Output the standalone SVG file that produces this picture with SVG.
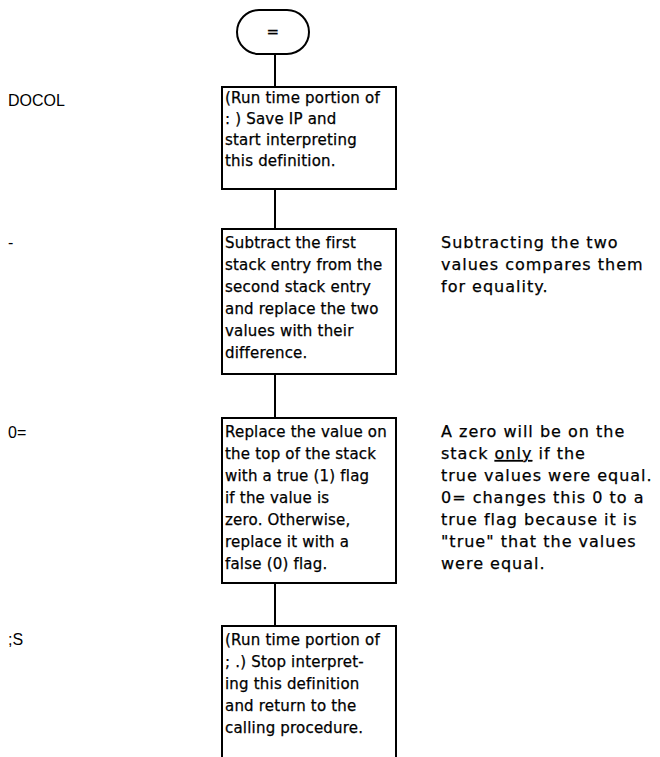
<svg xmlns="http://www.w3.org/2000/svg" width="660" height="757" viewBox="0 0 660 757">
<style>
.box{fill:#fff;stroke:#000;stroke-width:2}
.c{stroke:#000;stroke-width:2;fill:none}
.t{font-family:"DejaVu Sans","Liberation Sans",sans-serif;font-size:15px;letter-spacing:0.2px;fill:#000;stroke:#000;stroke-width:0.25px}
.a{font-family:"DejaVu Sans","Liberation Sans",sans-serif;font-size:16px;letter-spacing:1px;fill:#000;stroke:#000;stroke-width:0.25px}
.l{font-family:"Liberation Sans",Arial,sans-serif;font-size:16px;fill:#000}
</style>
<rect width="660" height="757" fill="#fff"/>
<g id="connectors">
<line class="c" x1="275" y1="54" x2="275" y2="87"/>
<line class="c" x1="275" y1="189" x2="275" y2="229"/>
<line class="c" x1="275" y1="374" x2="275" y2="418"/>
<line class="c" x1="275" y1="583" x2="275" y2="626"/>
</g>
<g id="start">
<rect class="box" x="237" y="10" width="72" height="44" rx="22"/>
<text class="t" x="273" y="37" text-anchor="middle">=</text>
</g>
<g id="docol">
<text class="l" x="8" y="106">DOCOL</text>
<rect class="box" x="222" y="87" width="174" height="102"/>
<text class="t"><tspan x="225" y="103">(Run time portion of</tspan><tspan x="225" y="124">: ) Save IP and</tspan><tspan x="225" y="145">start interpreting</tspan><tspan x="225" y="166">this definition.</tspan></text>
</g>
<g id="minus">
<text class="l" x="8" y="248">-</text>
<rect class="box" x="222" y="229" width="174" height="145"/>
<text class="t"><tspan x="225" y="248">Subtract the first</tspan><tspan x="225" y="270">stack entry from the</tspan><tspan x="225" y="292">second stack entry</tspan><tspan x="225" y="314">and replace the two</tspan><tspan x="225" y="336">values with their</tspan><tspan x="225" y="358">difference.</tspan></text>
<text class="a"><tspan x="441" y="248">Subtracting the two</tspan><tspan x="441" y="270">values compares them</tspan><tspan x="441" y="292">for equality.</tspan></text>
</g>
<g id="zeroeq">
<text class="l" x="8" y="438">0=</text>
<rect class="box" x="222" y="418" width="174" height="165"/>
<text class="t"><tspan x="225" y="437">Replace the value on</tspan><tspan x="225" y="459">the top of the stack</tspan><tspan x="225" y="481">with a true (1) flag</tspan><tspan x="225" y="503">if the value is</tspan><tspan x="225" y="525">zero. Otherwise,</tspan><tspan x="225" y="547">replace it with a</tspan><tspan x="225" y="569">false (0) flag.</tspan></text>
<text class="a"><tspan x="441" y="437">A zero will be on the</tspan><tspan x="441" y="459">stack <tspan text-decoration="underline">only</tspan> if the</tspan><tspan x="441" y="481">true values were equal.</tspan><tspan x="441" y="503">0= changes this 0 to a</tspan><tspan x="441" y="525">true flag because it is</tspan><tspan x="441" y="547">"true" that the values</tspan><tspan x="441" y="569">were equal.</tspan></text>
</g>
<g id="semis">
<text class="l" x="8" y="645">;S</text>
<path class="box" d="M222,760 V626 H396 V760"/>
<text class="t"><tspan x="225" y="645">(Run time portion of</tspan><tspan x="225" y="667">; .) Stop interpret-</tspan><tspan x="225" y="689">ing this definition</tspan><tspan x="225" y="711">and return to the</tspan><tspan x="225" y="733">calling procedure.</tspan></text>
</g>
</svg>
